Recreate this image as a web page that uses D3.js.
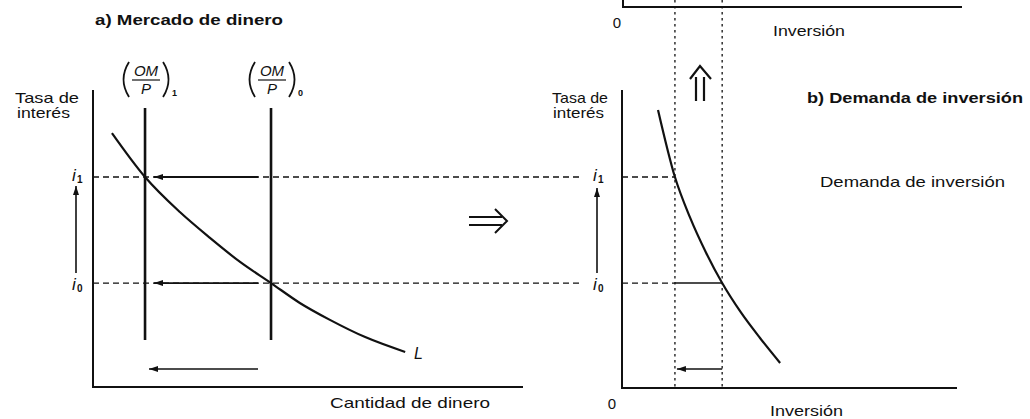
<!DOCTYPE html>
<html>
<head>
<meta charset="utf-8">
<script src="https://cdn.jsdelivr.net/npm/d3@7"></script>
<style>
  html, body { margin: 0; padding: 0; background: #fff; }
  svg { display: block; font-family: "Liberation Sans", Arial, Helvetica, sans-serif; }
</style>
</head>
<body>
<svg id="chart" width="1030" height="419"></svg>
<script>
// ---------- data ----------
const interestRates = [70.7, 35];          // i1, i0
const interestSubs = ["1", "0"];
const moneySupply = [12.1, 41.4];          // (OM/P)1, (OM/P)0
const moneySubs = ["1", "0"];
const moneyDemandL = [[4.4, 85.5], [12.1, 70.7], [20.2, 58.9], [27.2, 50.2], [34.2, 42.1],
                      [41.4, 35], [48.1, 28.3], [55.1, 22.6], [63.3, 16.8], [72.6, 11.8]];
const investmentLevels = [15.8, 29.9];     // I at i1, I at i0
const investmentDemand = [[10.75, 93.3], [15.8, 70.7], [20.3, 57.1], [25.1, 45.2], [29.9, 35],
                          [35.5, 25.1], [41.2, 16.5], [47.2, 8.1]];
const texts = {
  titleA: "a) Mercado de dinero",
  titleB: "b) Demanda de inversión",
  yTitle: ["Tasa de", "interés"],
  xTitleA: "Cantidad de dinero",
  xTitleB: "Inversión",
  curveB: "Demanda de inversión",
  curveA: "L",
  zero: "0"
};

// ---------- scales ----------
const svg = d3.select("#chart");
const ink = "#111";
const xA = d3.scaleLinear().domain([0, 100]).range([93, 523]);
const y = d3.scaleLinear().domain([0, 100]).range([387, 90]);
const xB = d3.scaleLinear().domain([0, 100]).range([622, 957]);

const defs = svg.append("defs");
defs.append("marker").attr("id", "ah")
  .attr("viewBox", "0 0 9 6").attr("refX", 9).attr("refY", 3)
  .attr("markerWidth", 9).attr("markerHeight", 6).attr("markerUnits", "userSpaceOnUse")
  .attr("orient", "auto")
  .append("path").attr("d", "M0,0 L9,3 L0,6 Z").attr("fill", ink);

const g = svg.append("g");

function line(x1, y1, x2, y2, w, dash) {
  const l = g.append("line").attr("x1", x1).attr("y1", y1).attr("x2", x2).attr("y2", y2)
    .attr("stroke", ink).attr("stroke-width", w);
  if (dash) l.attr("stroke-dasharray", dash);
  return l;
}
function text(str, x, yy, size, opts = {}) {
  const t = g.append("text").attr("x", x).attr("y", yy).attr("font-size", size)
    .attr("fill", ink).text(str);
  if (opts.anchor) t.attr("text-anchor", opts.anchor);
  if (opts.weight) t.attr("font-weight", opts.weight);
  if (opts.italic) t.attr("font-style", "italic");
  if (opts.len) t.attr("textLength", opts.len).attr("lengthAdjust", "spacingAndGlyphs");
  return t;
}

// ---------- dashed interest-rate guides (drawn first) ----------
interestRates.forEach(r => {
  line(xA(0), y(r), 583, y(r), 1.3, "6,4");
});
// right panel guides
line(xB(0), y(interestRates[0]), xB(investmentLevels[0]), y(interestRates[0]), 1.3, "6,4");
line(xB(0), y(interestRates[1]), xB(investmentLevels[0]), y(interestRates[1]), 1.3, "6,4");
line(xB(investmentLevels[0]), y(interestRates[1]), xB(investmentLevels[1]), y(interestRates[1]), 1.5);

// dotted investment verticals across both right panels
investmentLevels.forEach(v => {
  line(xB(v), 0, xB(v), y(0), 1.3, "2.5,3.5");
});

// ---------- axes ----------
// panel a
g.append("path").attr("d", `M${xA(0)},${y(100)} V${y(0)} H${xA(100)}`)
  .attr("fill", "none").attr("stroke", ink).attr("stroke-width", 2);
// panel b
g.append("path").attr("d", `M${xB(0)},${y(100)} V${y(0) + 1} H${xB(100)}`)
  .attr("fill", "none").attr("stroke", ink).attr("stroke-width", 2);
// top partial panel
g.append("path").attr("d", `M${xB(0) + 1},-2 V7 H${xB(100) + 5}`)
  .attr("fill", "none").attr("stroke", ink).attr("stroke-width", 2);

// ---------- money supply verticals ----------
moneySupply.forEach(m => {
  line(xA(m), 108, xA(m), 340, 2.6);
});

// ---------- curves ----------
const lineA = d3.line().x(d => xA(d[0])).y(d => y(d[1])).curve(d3.curveMonotoneX);
g.append("path").datum(moneyDemandL).attr("d", lineA)
  .attr("fill", "none").attr("stroke", ink).attr("stroke-width", 2.2);
const lineB = d3.line().x(d => xB(d[0])).y(d => y(d[1])).curve(d3.curveMonotoneX);
g.append("path").datum(investmentDemand).attr("d", lineB)
  .attr("fill", "none").attr("stroke", ink).attr("stroke-width", 2.2);

// ---------- arrows ----------
interestRates.forEach(r => {
  line(258, y(r), xA(moneySupply[0]) + 9, y(r), 1.8).attr("marker-end", "url(#ah)");
});
line(258, 369, xA(moneySupply[0]) + 4, 369, 1.6).attr("marker-end", "url(#ah)");
line(xB(investmentLevels[1]), 369, xB(investmentLevels[0]) + 2, 369, 1.6).attr("marker-end", "url(#ah)");
line(76, 273, 76, y(interestRates[0]) + 9, 1.6).attr("marker-end", "url(#ah)");
line(597, 273, 597, y(interestRates[0]) + 11, 1.6).attr("marker-end", "url(#ah)");

// implication arrow ⟹
g.append("path").attr("d", "M469,217 H502 M469,225 H502 M495,209 L507,221 L495,233")
  .attr("fill", "none").attr("stroke", ink).attr("stroke-width", 2);
// upward double arrow ⇑
g.append("path").attr("d", "M696,77 V101 M704,77 V101 M690,79 L700,66 L711,79")
  .attr("fill", "none").attr("stroke", ink).attr("stroke-width", 2.2);

// ---------- labels ----------
text(texts.titleA, 95, 25, 14, { weight: "bold", len: 188 });
text(texts.titleB, 807, 103, 14, { weight: "bold", len: 216 });

text(texts.yTitle[0], 15, 103, 15, { len: 64 });
text(texts.yTitle[1], 17, 118, 15, { len: 53 });
text(texts.yTitle[0], 552, 103, 15, { len: 56 });
text(texts.yTitle[1], 553, 118, 15, { len: 51 });

text(texts.xTitleA, 330, 408, 15, { len: 160 });
text(texts.xTitleB, 773, 36, 15, { len: 72 });
text(texts.xTitleB, 770, 416, 15, { len: 73 });
text(texts.zero, 617, 28, 15, { anchor: "middle" });
text(texts.zero, 612, 409, 15, { anchor: "middle" });

text(texts.curveB, 820, 187, 15, { len: 185 });
text(texts.curveA, 414, 359, 16, { italic: true });

// interest labels i1, i0 on both panels
[72, 593].forEach(x0 => {
  interestRates.forEach((r, k) => {
    const base = y(r) + (k === 0 ? 4 : 7);
    text("i", x0, base, 17, { italic: true });
    text(interestSubs[k], x0 + 5, base + 2, 10, { weight: "bold" });
  });
});

// (OM/P) labels
moneySupply.forEach((m, k) => {
  const cx = xA(m) + 1;
  text("OM", cx, 76, 15, { anchor: "middle", italic: true });
  line(cx - 14, 80, cx + 14, 80, 1.2);
  text("P", cx, 94, 15, { anchor: "middle", italic: true });
  g.append("path")
    .attr("d", `M${cx - 17},62 Q${cx - 28},79.5 ${cx - 17},97 M${cx + 17},62 Q${cx + 28},79.5 ${cx + 17},97`)
    .attr("fill", "none").attr("stroke", ink).attr("stroke-width", 1.8);
  text(moneySubs[k], cx + 26, 96, 9, { weight: "bold" });
});
</script>
</body>
</html>
